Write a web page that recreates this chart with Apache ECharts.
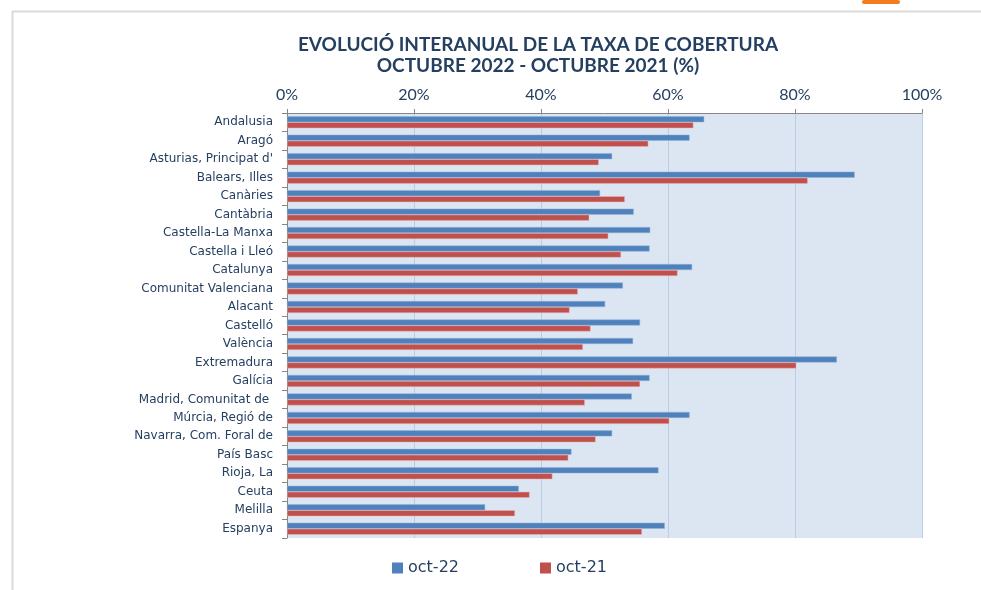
<!DOCTYPE html>
<html>
<head>
<meta charset="utf-8">
<script src="https://cdn.jsdelivr.net/npm/echarts@6/dist/echarts.min.js"></script>
<style>
  html, body { margin: 0; padding: 0; background: #fff; }
  #chart { width: 981px; height: 590px; }
</style>
</head>
<body>
<div id="chart"></div>
<script>
// comunitats / províncies
var categories = ['Andalusia', 'Aragó', "Asturias, Principat d'", 'Balears, Illes', 'Canàries', 'Cantàbria',
  'Castella-La Manxa', 'Castella i Lleó', 'Catalunya', 'Comunitat Valenciana', 'Alacant', 'Castelló',
  'València', 'Extremadura', 'Galícia', 'Madrid, Comunitat de ', 'Múrcia, Regió de',
  'Navarra, Com. Foral de', 'País Basc', 'Rioja, La', 'Ceuta', 'Melilla', 'Espanya'];

// taxa de cobertura (%)
var oct22 = [65.7, 63.4, 51.2, 89.4, 49.3, 54.6, 57.2, 57.1, 63.8, 52.9, 50.1, 55.6,
  54.5, 86.6, 57.1, 54.3, 63.4, 51.2, 44.8, 58.5, 36.5, 31.2, 59.5];
var oct21 = [64.0, 56.9, 49.1, 82.0, 53.2, 47.6, 50.6, 52.6, 61.5, 45.8, 44.5, 47.8,
  46.6, 80.2, 55.6, 46.9, 60.2, 48.6, 44.3, 41.8, 38.2, 35.9, 55.9];

var xTicks = [0, 20, 40, 60, 80, 100];

var navy = '#243f60';
var chart = echarts.init(document.getElementById('chart'));

var option = {
  animation: false,
  backgroundColor: '#fff',
  title: {
    text: 'EVOLUCIÓ INTERANUAL DE LA TAXA DE COBERTURA\nOCTUBRE 2022 - OCTUBRE 2021 (%)',
    left: 533,
    top: 29,
    textAlign: 'center',
    textStyle: {
      fontFamily: 'Lato',
      fontWeight: 'bold',
      fontSize: 19,
      lineHeight: 21,
      color: navy
    }
  },
  legend: {
    left: 387,
    top: 555,
    itemGap: 81,
    itemWidth: 11,
    itemHeight: 11,
    icon: 'rect',
    itemStyle: { borderWidth: 0 },
    textStyle: { fontFamily: 'DejaVu Sans', fontSize: 16, color: navy },
    data: ['oct-22', 'oct-21']
  },
  grid: {
    left: 287,
    right: 59,
    top: 113,
    bottom: 52,
    show: true,
    backgroundColor: '#dce6f2',
    borderWidth: 0
  },
  xAxis: {
    type: 'value',
    position: 'top',
    min: xTicks[0],
    max: xTicks[xTicks.length - 1],
    interval: 20,
    axisLine: { show: true, lineStyle: { color: '#868686', width: 1 } },
    axisTick: { show: true, length: 4, lineStyle: { color: '#868686' } },
    axisLabel: {
      formatter: '{value}%',
      fontFamily: 'Lato',
      fontSize: 16,
      color: navy,
      margin: 10
    },
    splitLine: { show: true, lineStyle: { color: '#b9cde5', width: 1 } }
  },
  yAxis: {
    type: 'category',
    inverse: true,
    data: categories,
    axisLine: { show: true, lineStyle: { color: '#868686' } },
    axisTick: { show: true, length: 5, lineStyle: { color: '#868686' } },
    axisLabel: {
      fontFamily: 'DejaVu Sans',
      fontSize: 12,
      color: navy,
      margin: 14
    }
  },
  series: [
    {
      name: 'oct-22',
      type: 'bar',
      data: oct22,
      barWidth: 6,
      barGap: '0%',
      itemStyle: { color: '#4f81bd', borderColor: '#95b3d7', borderWidth: 0.5 }
    },
    {
      name: 'oct-21',
      type: 'bar',
      data: oct21,
      barWidth: 6,
      itemStyle: { color: '#c0504d', borderColor: '#e6b9b8', borderWidth: 0.5 }
    }
  ],
  graphic: [
    { type: 'line', shape: { x1: 12, y1: 11.5, x2: 981, y2: 11.5 }, style: { stroke: '#d9d9d9', lineWidth: 2 } },
    { type: 'line', shape: { x1: 12.5, y1: 11, x2: 12.5, y2: 590 }, style: { stroke: '#d9d9d9', lineWidth: 2 } },
    { type: 'rect', shape: { x: 862, y: 0, width: 38, height: 4, r: 2 }, style: { fill: '#f47b20' } }
  ]
};

chart.setOption(option);
</script>
</body>
</html>
